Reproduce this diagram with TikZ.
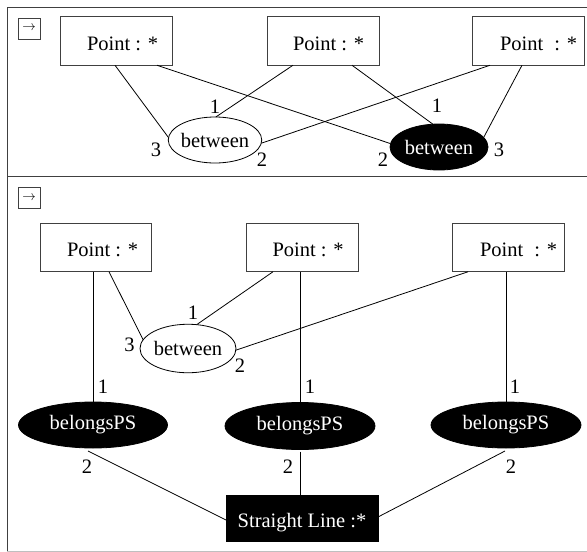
\documentclass[tikz,border=0pt]{standalone}
\usepackage{fontspec}
\usepackage{graphicx}
\setmainfont{Liberation Serif}
\usetikzlibrary{shapes.geometric}
\begin{document}
\begin{tikzpicture}[x=1pt,y=-1pt,
  every node/.style={font=\fontsize{20.5}{24}\selectfont, inner sep=0pt, outer sep=0pt},
  ptbox/.style={draw=black!75, line width=0.8pt, minimum width=111.5pt, minimum height=48.5pt},
  wellip/.style={ellipse, draw=black, line width=0.8pt, fill=white},
  bellip/.style={ellipse, draw=black, fill=black, line width=0.8pt},
  conn/.style={line width=0.8pt},
  arrbox/.style={draw=black!75, line width=0.8pt, minimum width=22pt, minimum height=21pt},
  framec/.style={draw=black!75, line width=1pt}]
\useasboundingbox (0,0) rectangle (587,552);

% frame
\draw[framec] (7,551) -- (7,7) -- (590,7);
\draw[framec] (7,176) -- (590,176);
\draw[draw=black!25, line width=1pt] (7,551) -- (590,551);

% ---------- top panel ----------
\node[arrbox] (arrA) at (29,28.5) {\scalebox{0.65}{$\rightarrow$}};
\node[ptbox] (p1) at (116.5,41) {};
\node[anchor=base west] (p1t) at (87,50) {Point : *};
\node[ptbox] (p2) at (323.5,41) {};
\node[anchor=base west] (p2t) at (293,50) {Point : *};
\node[ptbox] (p3) at (528.5,41) {};
\node[anchor=base west] (p3t) at (500,50) {Point\hspace{6pt} : *};

\node[wellip, minimum width=93.5pt, minimum height=46pt, label={center:between}] (tb1) at (215,140) {};
\node[bellip, minimum width=98pt, minimum height=46pt, label={[text=white]center:between}] (tb2) at (439,147) {};

\draw[conn] ([xshift=-1.5pt]p1.south) -- (tb1.177);
\draw[conn] ([xshift=40.5pt]p1.south) -- (tb2.176);
\draw[conn] ([xshift=-30.5pt]p2.south) -- (tb1.88);
\draw[conn] ([xshift=28.5pt]p2.south) -- (tb2.105);
\draw[conn] ([xshift=-38.5pt]p3.south) -- (tb1.-4);
\draw[conn] ([xshift=-6.5pt]p3.south) -- (tb2.12);

\node (l1a) at (215,107) {1};
\node (l1b) at (156,150) {3};
\node (l1c) at (262,160) {2};
\node (l2a) at (437,106) {1};
\node (l2b) at (383,160) {2};
\node (l2c) at (499,150) {3};

% ---------- bottom panel ----------
\node[arrbox] (arrB) at (29,198) {\scalebox{0.65}{$\rightarrow$}};
\node[ptbox] (pa) at (96,247.5) {};
\node[anchor=base west] (pat) at (67,256) {Point : *};
\node[ptbox] (pb) at (302.5,247.5) {};
\node[anchor=base west] (pbt) at (272.5,256) {Point : *};
\node[ptbox] (pc) at (508.5,247.5) {};
\node[anchor=base west] (pct) at (480,256) {Point\hspace{6pt} : *};

\node[wellip, minimum width=96pt, minimum height=48.5pt, label={center:between}] (bb) at (188,348.5) {};

\node[bellip, minimum width=149pt, minimum height=46pt, label={[text=white]center:belongsPS}] (bp1) at (93,425) {};
\node[bellip, minimum width=150pt, minimum height=47pt, label={[text=white]center:belongsPS}] (bp2) at (300,426) {};
\node[bellip, minimum width=150pt, minimum height=46pt, label={[text=white]center:belongsPS}] (bp3) at (506,425) {};

\node[draw=black, fill=black, line width=0.8pt, minimum width=152pt, minimum height=46pt] (sl) at (302,518) {};
\node[anchor=base, text=white] (slt) at (302,527) {Straight Line :*};

\draw[conn] ([xshift=13pt]pa.south) -- (bb.169);
\draw[conn] ([xshift=-29.5pt]pb.south) -- (bb.70);
\draw[conn] ([xshift=-40.5pt]pc.south) -- (bb.-2);

\draw[conn] (bp1.north) -- (bp1.north |- pa.south);
\draw[conn] (bp2.north) -- (bp2.north |- pb.south);
\draw[conn] (bp3.north) -- (bp3.north |- pc.south);

\draw[conn] ([xshift=-5pt,yshift=-3pt]bp1.south) -- ([yshift=-2pt]sl.west);
\draw[conn] ([yshift=-2pt]bp2.south) -- (bp2.south |- sl.north);
\draw[conn] ([xshift=-1pt,yshift=-3pt]bp3.south) -- ([yshift=1pt]sl.east);

\node (lb1) at (193,313) {1};
\node (lb3) at (129.5,345) {3};
\node (lb2) at (240,366) {2};
\node (lp1a) at (103,387) {1};
\node (lp1b) at (87,467) {2};
\node (lp2a) at (310,387) {1};
\node (lp2b) at (288,467) {2};
\node (lp3a) at (515,387) {1};
\node (lp3b) at (511,467) {2};
\end{tikzpicture}
\end{document}
